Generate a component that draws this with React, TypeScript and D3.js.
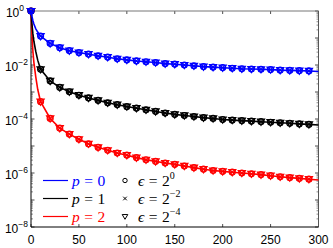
import * as d3 from "d3";

// iteration numbers where the curves are sampled
const iters = [0, 1, 2, 3, 5, 7, 10, 20, 30, 40, 50, 60, 70, 80, 90, 100, 110, 120, 130, 140, 150,
  160, 170, 180, 190, 200, 210, 220, 230, 240, 250, 260, 270, 280, 290, 300];

// log10 of the residual
const logP0 = [0, -0.2, -0.36, -0.48, -0.66, -0.78, -0.93, -1.2, -1.36, -1.47, -1.54, -1.6, -1.66,
  -1.71, -1.77, -1.81, -1.85, -1.88, -1.91, -1.95, -1.97, -2.0, -2.03, -2.06, -2.08, -2.1, -2.12,
  -2.14, -2.15, -2.16, -2.17, -2.19, -2.2, -2.21, -2.22, -2.24];
const logP1 = [0, -0.5, -0.85, -1.12, -1.5, -1.82, -2.16, -2.59, -2.83, -2.99, -3.12, -3.22, -3.31,
  -3.4, -3.47, -3.54, -3.6, -3.66, -3.72, -3.78, -3.83, -3.87, -3.91, -3.95, -3.98, -4.02, -4.04,
  -4.06, -4.08, -4.1, -4.12, -4.14, -4.16, -4.18, -4.2, -4.22];
const logP2 = [0, -0.9, -1.5, -1.9, -2.45, -2.9, -3.36, -3.98, -4.34, -4.56, -4.75, -4.92, -5.05,
  -5.16, -5.26, -5.34, -5.43, -5.51, -5.57, -5.63, -5.68, -5.74, -5.8, -5.86, -5.91, -5.94, -5.97,
  -6.0, -6.03, -6.06, -6.1, -6.14, -6.17, -6.2, -6.23, -6.26];

const xTicks = [0, 50, 100, 150, 200, 250, 300];
const yLabelExp = [0, -2, -4, -6, -8];

const series = [
  { name: "2", color: "#ff0000", vals: logP2 },
  { name: "1", color: "#000000", vals: logP1 },
  { name: "0", color: "#0000ff", vals: logP0 },
];
const legendP = [
  { name: "0", color: "#0000ff" },
  { name: "1", color: "#000000" },
  { name: "2", color: "#ff0000" },
];
const legendEps = ["0", "\u22122", "\u22124"];

const W = 333, H = 248;
const m = { left: 31, right: 14.5, top: 11, bottom: 21 };

const circ = (r: number) => `M${r},0A${r},${r} 0 1,1 ${-r},0A${r},${r} 0 1,1 ${r},0Z`;
const cross = (s: number) => `M${-s},${-s}L${s},${s}M${-s},${s}L${s},${-s}`;
const triDown = (s: number) => `M${-s},${-s * 0.7}L${s},${-s * 0.7}L0,${s}Z`;

export default function App() {
  const x = d3.scaleLinear().domain([0, 300]).range([m.left, W - m.right]);
  const y = d3.scaleLog().domain([1e-8, 1]).range([H - m.bottom, m.top]);

  const line = d3
    .line<[number, number]>()
    .x((d) => x(d[0]))
    .y((d) => y(d[1]));

  const majors: number[] = [];
  const minors: number[] = [];
  for (let k = -8; k <= 0; k++) {
    majors.push(10 ** k);
    if (k < 0) for (let j = 2; j <= 9; j++) minors.push(j * 10 ** k);
  }

  const x0 = x(0), x1 = x(300), y0 = y(1e-8), y1 = y(1);
  const lf = "'Liberation Serif', 'DejaVu Serif', serif";

  return (
    <svg width={W} height={H} style={{ position: "absolute", left: 0, top: 0 }}
      fontFamily="'Liberation Sans', Arial, sans-serif">
      <rect width={W} height={H} fill="white" />
      {/* ticks */}
      {xTicks.map((t) => (
        <g key={"xt" + t} stroke="#222" strokeWidth={0.8}>
          <line x1={x(t)} x2={x(t)} y1={y0} y2={y0 - 3} />
          <line x1={x(t)} x2={x(t)} y1={y1} y2={y1 + 3} />
        </g>
      ))}
      {majors.map((v, i) => (
        <g key={"ym" + i} stroke="#222" strokeWidth={0.8}>
          <line x1={x0} x2={x0 + 3.5} y1={y(v)} y2={y(v)} />
          <line x1={x1} x2={x1 - 3.5} y1={y(v)} y2={y(v)} />
        </g>
      ))}
      {minors.map((v, i) => (
        <g key={"yn" + i} stroke="#444" strokeWidth={0.6}>
          <line x1={x0} x2={x0 + 2} y1={y(v)} y2={y(v)} />
          <line x1={x1} x2={x1 - 2} y1={y(v)} y2={y(v)} />
        </g>
      ))}
      {/* frame */}
      <line x1={x0} x2={x1} y1={y1} y2={y1} stroke="#777" strokeWidth={1} />
      <line x1={x1} x2={x1} y1={y1} y2={y0} stroke="#555" strokeWidth={1} />
      <line x1={x0} x2={x0} y1={y1} y2={y0} stroke="#000" strokeWidth={1} />
      <line x1={x0} x2={x1} y1={y0} y2={y0} stroke="#000" strokeWidth={1} />

      {/* tick labels */}
      {xTicks.map((t) => (
        <text key={"xl" + t} x={x(t)} y={y0 + 16.5} fontSize={12} textAnchor="middle">
          {t}
        </text>
      ))}
      {yLabelExp.map((e) => (
        <text key={"yl" + e} x={e === 0 ? 24 : 28} y={y(10 ** e) + 5.5} fontSize={12} textAnchor="end">
          10
          <tspan dy={-5.5} fontSize={8.5}>{e === 0 ? "0" : "\u2212" + -e}</tspan>
        </text>
      ))}

      {/* curves */}
      {series.map((s) => {
        const pts: [number, number][] = iters.map((it, i) => [it, 10 ** s.vals[i]]);
        const marks = pts.filter((p) => p[0] % 10 === 0 && p[0] < 300);
        return (
          <g key={s.name}>
            <path d={line(pts) ?? ""} fill="none" stroke={s.color} strokeWidth={1.6} />
            {marks.map((p, i) => (
              <g key={i} transform={`translate(${x(p[0])},${y(p[1])})`} fill="none" stroke={s.color}
                strokeWidth={1.2}>
                <path d={circ(3)} />
                <path d={cross(2.5)} />
                <path d={triDown(3.6)} />
              </g>
            ))}
          </g>
        );
      })}

      {/* legend */}
      {legendP.map((l, i) => {
        const ly = 180.5 + i * 18;
        return (
          <g key={"lp" + i}>
            <line x1={43} x2={68} y1={ly} y2={ly} stroke={l.color} strokeWidth={1.2} />
            <text x={72} y={ly + 5} fontSize={15.5} fontFamily={lf} fill={l.color}>
              <tspan fontStyle="italic">p</tspan>
              <tspan dx={4.5}>=</tspan>
              <tspan dx={4.5}>{l.name}</tspan>
            </text>
          </g>
        );
      })}
      {legendEps.map((e, i) => {
        const ly = 180.5 + i * 18;
        const sym = i === 0 ? circ(2.2) : i === 1 ? cross(1.8) : triDown(2.8);
        return (
          <g key={"le" + i}>
            <path d={sym} transform={`translate(125,${ly})`} fill="none" stroke="#000" strokeWidth={1} />
            <text x={138} y={ly + 5} fontSize={15.5} fontFamily={lf}>
              <tspan fontStyle="italic">{"\u03f5"}</tspan>
              <tspan dx={4.5}>=</tspan>
              <tspan dx={4.5}>2</tspan>
              <tspan dy={-6.5} fontSize={10}>{e}</tspan>
            </text>
          </g>
        );
      })}
    </svg>
  );
}
